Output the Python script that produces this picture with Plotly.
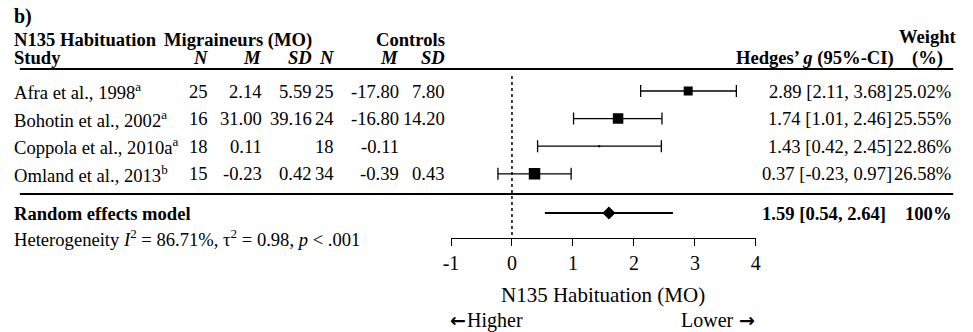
import plotly.graph_objects as go

# ---- data ----
studies = ["Afra et al., 1998", "Bohotin et al., 2002", "Coppola et al., 2010a", "Omland et al., 2013"]
study_notes = ["a", "a", "a", "b"]
n_mo = [25, 16, 18, 15]
m_mo = [2.14, 31.00, 0.11, -0.23]
sd_mo = [5.59, 39.16, None, 0.42]
n_ctl = [25, 24, 18, 34]
m_ctl = [-17.80, -16.80, -0.11, -0.39]
sd_ctl = [7.80, 14.20, None, 0.43]
hedges_g = [2.89, 1.74, 1.43, 0.37]
ci_low = [2.11, 1.01, 0.42, -0.23]
ci_high = [3.68, 2.46, 2.45, 0.97]
weights = [25.02, 25.55, 22.86, 26.58]

pooled_g = 1.59
pooled_low = 0.54
pooled_high = 2.64
pooled_weight = 100

x_ticks = [-1, 0, 1, 2, 3, 4]
heterogeneity = "Heterogeneity <i>I</i><sup>2</sup> = 86.71%, τ<sup>2</sup> = 0.98, <i>p</i> &lt; .001"

# ---- layout (pixels) ----
W, H = 973, 332
FONT = "Liberation Serif"
ARROW_FONT = "DejaVu Sans"
BODY = 18.6
LEFT = 6
row_top, row_gap = 91, 27.6
row_y = [row_top + i * row_gap for i in range(len(studies))]
pooled_y = 213
hdr1_y, hdr2_y = 40, 58
rule1_y, rule2_y = 69, 194
axis_y = 238
plot_left, plot_right = 449, 758
marker_sizes = [9, 10.5, 2, 11.5]


def px(x):
    return x / W


def py(y):
    return 1 - y / H


annotations = []


def text(s, x, y, anchor="left", size=BODY, bold=False, family=FONT):
    if bold:
        s = "<b>" + s + "</b>"
    annotations.append(dict(
        text=s, x=px(x), y=py(y), xref="paper", yref="paper",
        xanchor=anchor, yanchor="middle", showarrow=False,
        borderpad=0, borderwidth=0,
        font=dict(family=family, size=size, color="black"),
    ))


def fmt(v):
    return "" if v is None else f"{v:.2f}"


# header
text("b)", LEFT, 17, size=20, bold=True)
text("N135 Habituation", LEFT, hdr1_y, bold=True)
text("Migraineurs (MO)", 308, hdr1_y, "right", bold=True)
text("Controls", 443, hdr1_y, "right", bold=True)
text("Study", LEFT, hdr2_y, bold=True)
col_right = [203, 257, 308, 330, 396, 443]
for label, xr in zip(["N", "M", "SD", "N", "M", "SD"], col_right):
    text("<i>" + label + "</i>", xr, hdr2_y, "right", bold=True)
text("Weight", 932, 36, "center", bold=True)
text("Hedges’ <i>g</i> (95%-CI)", 898, hdr2_y, "right", bold=True)
text("(%)", 932, hdr2_y, "center", bold=True)

# study rows
for i, y in enumerate(row_y):
    text(f"{studies[i]}<sup>{study_notes[i]}</sup>", LEFT, y)
    cells = [str(n_mo[i]), fmt(m_mo[i]), fmt(sd_mo[i]),
             str(n_ctl[i]), fmt(m_ctl[i]), fmt(sd_ctl[i])]
    for c, xr in zip(cells, col_right):
        if c:
            text(c, xr, y, "right")
    text(f"{hedges_g[i]:.2f} [{ci_low[i]:.2f}, {ci_high[i]:.2f}]", 896, y, "right")
    text(f"{weights[i]:.2f}%", 956, y, "right")

# pooled row
text("Random effects model", LEFT, pooled_y, bold=True)
text(f"{pooled_g:.2f} [{pooled_low:.2f}, {pooled_high:.2f}]", 890, pooled_y, "right", bold=True)
text(f"{pooled_weight}%", 956, pooled_y, "right", bold=True)
text(heterogeneity, LEFT, 238)

# axis caption and direction hints
text("N135 Habituation (MO)", (plot_left + plot_right) / 2, 295, "center", size=21)
text("<b>←</b>", 448, 320, "left", size=19, family=ARROW_FONT)
text("Higher", 465, 320, "left", size=20)
text("Lower", 736, 320, "right", size=20)
text("<b>→</b>", 757, 320, "right", size=19, family=ARROW_FONT)

fig = go.Figure()

# study estimates with confidence intervals
fig.add_trace(go.Scatter(
    x=hedges_g, y=row_y, mode="markers",
    marker=dict(symbol="square", size=marker_sizes, color="black",
                opacity=1, line=dict(width=0)),
    error_x=dict(type="data", symmetric=False,
                 array=[h - g for h, g in zip(ci_high, hedges_g)],
                 arrayminus=[g - l for g, l in zip(hedges_g, ci_low)],
                 width=6, thickness=1.3, color="black"),
    hoverinfo="skip", showlegend=False,
))

# pooled estimate
fig.add_trace(go.Scatter(
    x=[pooled_g], y=[pooled_y], mode="markers",
    marker=dict(symbol="diamond", size=10, color="black", opacity=1, line=dict(width=0)),
    error_x=dict(type="data", symmetric=False,
                 array=[pooled_high - pooled_g], arrayminus=[pooled_g - pooled_low],
                 width=0, thickness=2, color="black"),
    hoverinfo="skip", showlegend=False,
))

shapes = [
    dict(type="line", xref="x", yref="y", x0=0, x1=0, y0=76, y1=axis_y,
         line=dict(color="black", width=1.5, dash="dot")),
    dict(type="line", xref="paper", yref="paper", x0=px(12), x1=px(958),
         y0=py(rule1_y), y1=py(rule1_y), line=dict(color="black", width=2)),
    dict(type="line", xref="paper", yref="paper", x0=px(12), x1=px(958),
         y0=py(rule2_y), y1=py(rule2_y), line=dict(color="black", width=2)),
]

fig.update_layout(
    width=W, height=H, margin=dict(l=0, r=0, t=0, b=0),
    paper_bgcolor="white", plot_bgcolor="white",
    annotations=annotations, shapes=shapes,
    xaxis=dict(domain=[px(plot_left), px(plot_right)], range=[-1, 4],
               tickvals=x_ticks, ticktext=[str(t) for t in x_ticks],
               ticks="outside", ticklen=7, tickwidth=1.3, tickcolor="black",
               showline=True, linecolor="black", linewidth=1.3,
               showgrid=False, zeroline=False,
               tickfont=dict(family=FONT, size=20, color="black")),
    yaxis=dict(domain=[py(axis_y), 1], range=[axis_y, 0], visible=False,
               showgrid=False, zeroline=False),
)

fig.write_html("out.html")
